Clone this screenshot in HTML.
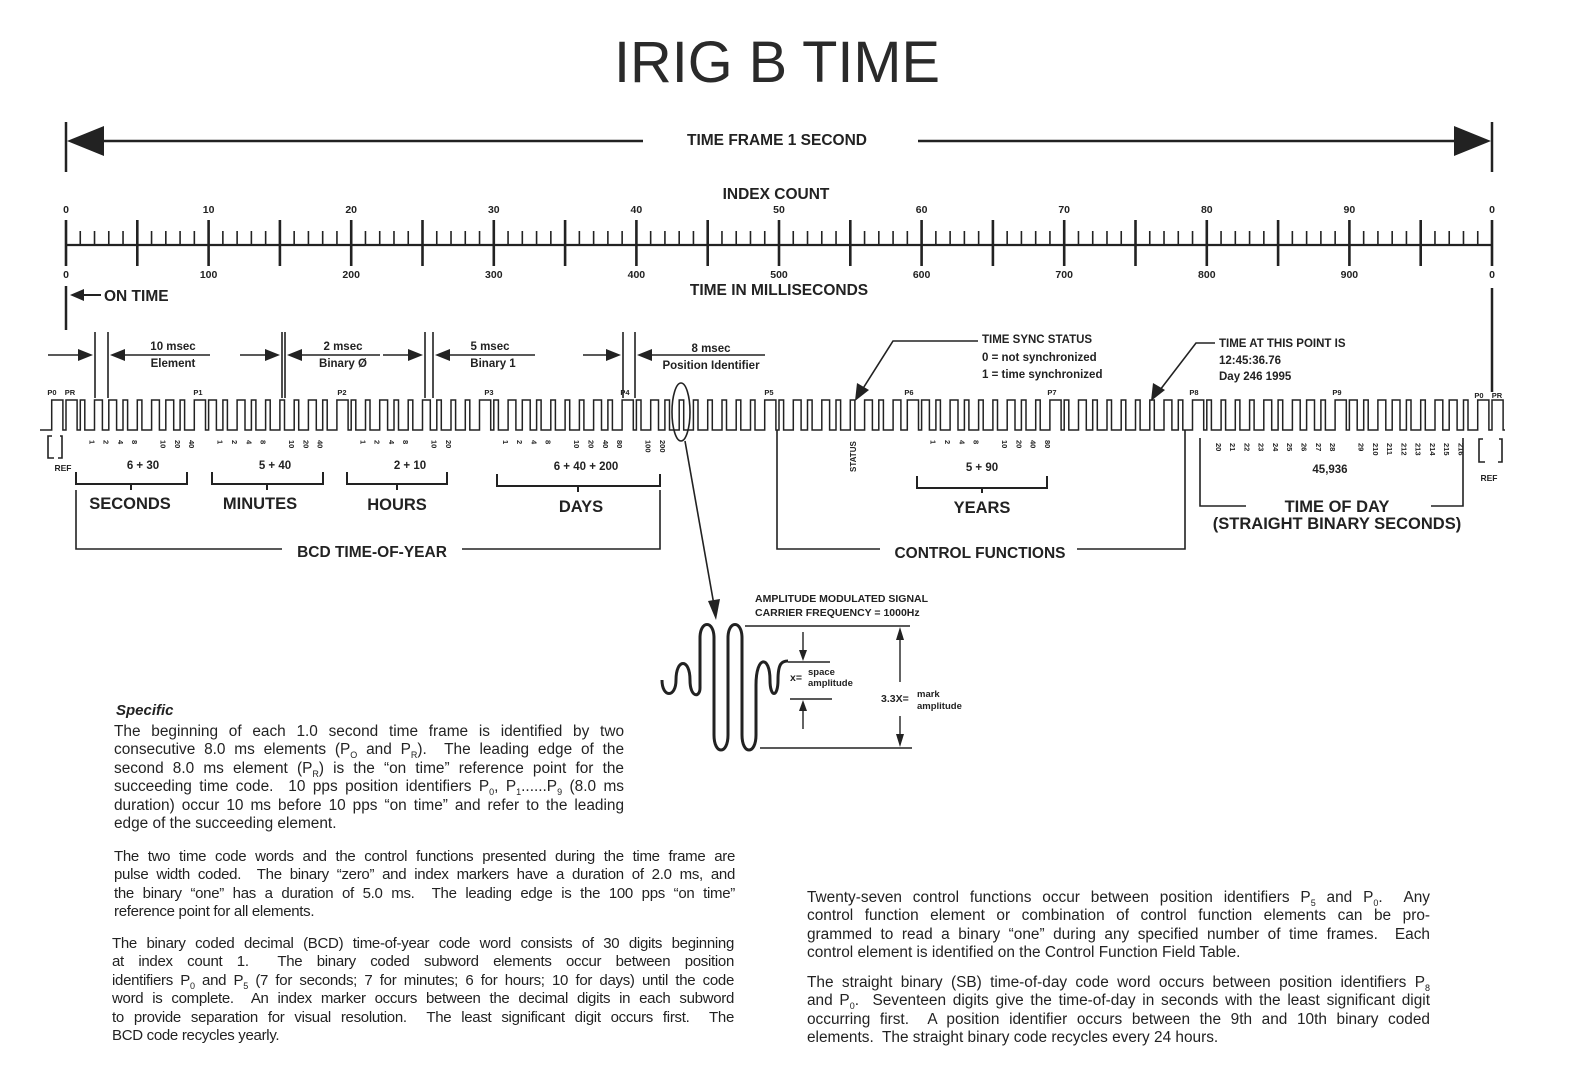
<!DOCTYPE html>
<html><head><meta charset="utf-8">
<style>
html,body{margin:0;padding:0;background:#fff;}
#wrap{position:relative;width:1577px;height:1091px;overflow:hidden;background:#fff;}
svg{position:absolute;left:0;top:0;}
.p{position:absolute;font-family:"Liberation Sans",sans-serif;font-size:15.4px;line-height:18.4px;color:#222;letter-spacing:0px;}
.p span{display:block;white-space:nowrap;text-align:justify;text-align-last:justify;}
.p span.l{text-align-last:left;}
.s{font-size:9px;position:relative;top:4px;line-height:0;}
</style></head><body><div id="wrap">
<svg id="sv" width="1577" height="1091" viewBox="0 0 1577 1091" font-family="Liberation Sans, sans-serif" fill="#222">
<text x="777" y="82" font-size="58" text-anchor="middle" fill="#2a2a2a" textLength="326" lengthAdjust="spacingAndGlyphs">IRIG B TIME</text>
<g stroke="#222" stroke-width="2.5" fill="none">
<line x1="66" y1="122" x2="66" y2="172"/>
<line x1="66" y1="286" x2="66" y2="330"/>
<line x1="1492" y1="122" x2="1492" y2="172"/>
<line x1="1492" y1="288" x2="1492" y2="392"/>
<line x1="100" y1="141" x2="643" y2="141"/>
<line x1="918" y1="141" x2="1458" y2="141"/>
</g>
<polygon points="67,141 104,126 104,156" fill="#222"/>
<polygon points="1491,141 1454,126 1454,156" fill="#222"/>
<text x="777" y="145" font-size="15.5" font-weight="bold" text-anchor="middle">TIME FRAME 1 SECOND</text>
<text x="776" y="199" font-size="15.5" font-weight="bold" text-anchor="middle">INDEX COUNT</text>
<text x="779" y="295" font-size="15.5" font-weight="bold" text-anchor="middle">TIME IN MILLISECONDS</text>
<g id="ruler" stroke="#222" fill="none"></g>
<g id="rl" font-size="10.5" font-weight="bold" text-anchor="middle"></g>
<polygon points="70,295 84,289 84,301" fill="#222"/>
<line x1="84" y1="295" x2="101" y2="295" stroke="#222" stroke-width="2"/>
<text x="104" y="301" font-size="15.5" font-weight="bold">ON TIME</text>
<g stroke="#222" stroke-width="1.6" fill="none">
<line x1="48" y1="355" x2="80" y2="355"/>
<line x1="95" y1="332" x2="95" y2="398"/><line x1="108" y1="332" x2="108" y2="398"/>
<line x1="125" y1="355" x2="210" y2="355"/>
<line x1="240" y1="355" x2="268" y2="355"/>
<line x1="282" y1="332" x2="282" y2="398"/><line x1="285" y1="332" x2="285" y2="398"/>
<line x1="300" y1="355" x2="380" y2="355"/>
<line x1="383" y1="355" x2="410" y2="355"/>
<line x1="425" y1="332" x2="425" y2="398"/><line x1="433" y1="332" x2="433" y2="398"/>
<line x1="450" y1="355" x2="535" y2="355"/>
<line x1="583" y1="355" x2="608" y2="355"/>
<line x1="623" y1="332" x2="623" y2="398"/><line x1="635" y1="332" x2="635" y2="398"/>
<line x1="652" y1="355" x2="765" y2="355"/>
</g>
<g fill="#222">
<polygon points="93,355 78,349 78,361"/><polygon points="110,355 125,349 125,361"/>
<polygon points="280,355 265,349 265,361"/><polygon points="287,355 302,349 302,361"/>
<polygon points="423,355 408,349 408,361"/><polygon points="435,355 450,349 450,361"/>
<polygon points="621,355 606,349 606,361"/><polygon points="637,355 652,349 652,361"/>
</g>
<g font-size="11.5" font-weight="bold" text-anchor="middle">
<text x="173" y="350">10 msec</text><text x="173" y="367">Element</text>
<text x="343" y="350">2 msec</text><text x="343" y="367">Binary Ø</text>
<text x="490" y="350">5 msec</text><text x="493" y="367">Binary 1</text>
<text x="711" y="352">8 msec</text><text x="711" y="369">Position Identifier</text>
</g>
<g font-size="7.5" font-weight="bold" text-anchor="middle">
<text x="52" y="395">P0</text><text x="70" y="395">PR</text>
<text x="198" y="395">P1</text><text x="342" y="395">P2</text><text x="489" y="395">P3</text>
<text x="625" y="395">P4</text><text x="769" y="395">P5</text><text x="909" y="395">P6</text>
<text x="1052" y="395">P7</text><text x="1194" y="395">P8</text><text x="1337" y="395">P9</text>
<text x="1479" y="398">P0</text><text x="1497" y="398">PR</text>
</g>
<path id="wave" stroke="#222" stroke-width="1.5" fill="none" d=""/>
<g id="digits" font-size="7.5" font-weight="bold"></g>
<g stroke="#222" stroke-width="1.6" fill="none">
<polyline points="52,436 48,436 48,458 54,458"/><polyline points="60,436 62,436 62,458 58,458"/>
<polyline points="1483,439 1479,439 1479,462 1485,462"/><polyline points="1499,439 1502,439 1502,462 1498,462"/>
</g>
<g font-size="8.5" font-weight="bold" text-anchor="middle"><text x="63" y="471">REF</text><text x="1489" y="481">REF</text></g>
<g font-size="11.5" font-weight="bold" text-anchor="middle">
<text x="143" y="469">6 + 30</text><text x="275" y="469">5 + 40</text><text x="410" y="469">2 + 10</text>
<text x="586" y="470">6 + 40 + 200</text><text x="982" y="471">5 + 90</text><text x="1330" y="473">45,936</text>
</g>
<text font-size="8" font-weight="bold" transform="translate(856,472) rotate(-90)">STATUS</text>
<g stroke="#222" stroke-width="2" fill="none">
<polyline points="76,472 76,484 187,484 187,472"/><line x1="131" y1="484" x2="131" y2="490"/>
<polyline points="212,472 212,484 323,484 323,472"/><line x1="267" y1="484" x2="267" y2="490"/>
<polyline points="347,472 347,484 447,484 447,472"/><line x1="397" y1="484" x2="397" y2="490"/>
<polyline points="497,474 497,486 660,486 660,474"/><line x1="578" y1="486" x2="578" y2="492"/>
<polyline points="917,476 917,488 1047,488 1047,476"/><line x1="982" y1="488" x2="982" y2="493"/>
</g>
<g font-size="16.5" font-weight="bold" text-anchor="middle">
<text x="130" y="509">SECONDS</text><text x="260" y="509">MINUTES</text><text x="397" y="510">HOURS</text>
<text x="581" y="512">DAYS</text><text x="982" y="513">YEARS</text>
<text x="1337" y="512">TIME OF DAY</text><text x="1337" y="529">(STRAIGHT BINARY SECONDS)</text>
</g>
<g stroke="#222" stroke-width="1.6" fill="none">
<polyline points="76,490 76,549 282,549"/><polyline points="462,549 660,549 660,490"/>
<polyline points="777,430 777,549 880,549"/><polyline points="1077,549 1185,549 1185,430"/>
<polyline points="1200,438 1200,506 1246,506"/><polyline points="1431,506 1463,506 1463,438"/>
</g>
<g font-size="15.5" font-weight="bold" text-anchor="middle">
<text x="372" y="557">BCD TIME-OF-YEAR</text><text x="980" y="558">CONTROL FUNCTIONS</text>
</g>
<g stroke="#222" stroke-width="1.6" fill="none">
<polyline points="978,341 893,341 862,390"/>
<polyline points="1215,343 1196,343 1160,390"/>
</g>
<polygon points="855,401 857,383 869,390" fill="#222"/>
<polygon points="1151,401 1153,383 1165,390" fill="#222"/>
<g font-size="11.5" font-weight="bold">
<text x="982" y="343">TIME SYNC STATUS</text>
<text x="982" y="361">0 = not synchronized</text>
<text x="982" y="378">1 =  time synchronized</text>
<text x="1219" y="347">TIME AT THIS POINT IS</text>
<text x="1219" y="364">12:45:36.76</text>
<text x="1219" y="380">Day 246 1995</text>
</g>
<ellipse cx="681" cy="412" rx="9" ry="29" stroke="#222" stroke-width="1.6" fill="none"/>
<line x1="685" y1="441" x2="714" y2="605" stroke="#222" stroke-width="1.6"/>
<polygon points="716,620 708,601 720,599" fill="#222"/>
<g font-size="10.5" font-weight="bold">
<text x="755" y="602">AMPLITUDE MODULATED SIGNAL</text>
<text x="755" y="616">CARRIER FREQUENCY = 1000Hz</text>
<text x="790" y="681">x=</text><text x="808" y="675" font-size="9.5">space</text><text x="808" y="686" font-size="9.5">amplitude</text>
<text x="881" y="702">3.3X=</text><text x="917" y="697" font-size="9.5">mark</text><text x="917" y="709" font-size="9.5">amplitude</text>
</g>
<path d="M662,680 C662,698 676,698 676,680 C676,658 690,658 690,680 C690,698 700,698 700,688 L700,638 C700,620 714,620 714,638 L714,735 C714,755 728,755 728,735 L728,638 C728,620 742,620 742,638 L742,735 C742,755 756,755 756,735 L756,685 C756,655 770,655 770,680 C770,698 778,698 778,680 C778,663 782,661 788,661" stroke="#222" stroke-width="3" fill="none"/>
<g stroke="#222" stroke-width="1.4" fill="none">
<line x1="745" y1="626" x2="910" y2="626"/><line x1="760" y1="748" x2="912" y2="748"/>
<line x1="788" y1="662" x2="830" y2="662"/><line x1="790" y1="699" x2="832" y2="699"/>
<line x1="803" y1="632" x2="803" y2="652"/><line x1="803" y1="709" x2="803" y2="729"/>
<line x1="900" y1="640" x2="900" y2="682"/><line x1="900" y1="716" x2="900" y2="738"/>
</g>
<g fill="#222">
<polygon points="803,661 799,650 807,650"/><polygon points="803,700 799,711 807,711"/>
<polygon points="900,627 896,640 904,640"/><polygon points="900,747 896,734 904,734"/>
</g>
<text x="116" y="715" font-size="15" font-weight="bold" font-style="italic">Specific</text>
</svg>

<div class="p" style="left:114px;top:723px;width:510px;">
<span>The beginning of each 1.0 second time frame is identified by two</span>
<span>consecutive 8.0 ms elements (P<span class="s" style="display:inline">O</span> and P<span class="s" style="display:inline">R</span>).&nbsp; The leading edge of the</span>
<span>second 8.0 ms element (P<span class="s" style="display:inline">R</span>) is the “on time” reference point for the</span>
<span>succeeding time code.&nbsp; 10 pps position identifiers P<span class="s" style="display:inline">0</span>, P<span class="s" style="display:inline">1</span>......P<span class="s" style="display:inline">9</span> (8.0 ms</span>
<span>duration) occur 10 ms before 10 pps “on time” and refer to the leading</span>
<span class="l">edge of the succeeding element.</span>
</div>
<div class="p" style="left:114px;top:848px;width:621px;font-size:15px;letter-spacing:-0.3px;">
<span>The two time code words and the control functions presented during the time frame are</span>
<span>pulse width coded.&nbsp; The binary “zero” and index markers have a duration of 2.0 ms, and</span>
<span>the binary “one” has a duration of 5.0 ms.&nbsp; The leading edge is the 100 pps “on time”</span>
<span class="l">reference point for all elements.</span>
</div>
<div class="p" style="left:112px;top:935px;width:622px;font-size:15px;letter-spacing:-0.3px;">
<span>The binary coded decimal (BCD) time-of-year code word consists of 30 digits beginning</span>
<span>at index count 1.&nbsp; The binary coded subword elements occur between position</span>
<span>identifiers P<span class="s" style="display:inline">0</span> and P<span class="s" style="display:inline">5</span> (7 for seconds; 7 for minutes; 6 for hours; 10 for days) until the code</span>
<span>word is complete.&nbsp; An index marker occurs between the decimal digits in each subword</span>
<span>to provide separation for visual resolution.&nbsp; The least significant digit occurs first.&nbsp; The</span>
<span class="l">BCD code recycles yearly.</span>
</div>
<div class="p" style="left:807px;top:889px;width:623px;">
<span>Twenty-seven control functions occur between position identifiers P<span class="s" style="display:inline">5</span> and P<span class="s" style="display:inline">0</span>.&nbsp; Any</span>
<span>control function element or combination of control function elements can be pro-</span>
<span>grammed to read a binary “one” during any specified number of time frames.&nbsp; Each</span>
<span class="l">control element is identified on the Control Function Field Table.</span>
</div>
<div class="p" style="left:807px;top:974px;width:623px;">
<span>The straight binary (SB) time-of-day code word occurs between position identifiers P<span class="s" style="display:inline">8</span></span>
<span>and P<span class="s" style="display:inline">0</span>.&nbsp; Seventeen digits give the time-of-day in seconds with the least significant digit</span>
<span>occurring first.&nbsp; A position identifier occurs between the 9th and 10th binary coded</span>
<span class="l">elements.&nbsp; The straight binary code recycles every 24 hours.</span>
</div>
</div>
<script>
(function(){
var NS="http://www.w3.org/2000/svg";
var x0=66,W=14.26;
function X(i){return x0+i*W;}
function el(tag,attrs,parent,txt){var e=document.createElementNS(NS,tag);for(var k in attrs)e.setAttribute(k,attrs[k]);if(txt!==undefined)e.textContent=txt;parent.appendChild(e);return e;}
var r=document.getElementById("ruler"),rl=document.getElementById("rl");
el("line",{x1:66,y1:245,x2:1492,y2:245,"stroke-width":2.2},r);
for(var i=0;i<=100;i++){var x=X(i);
 if(i%5==0){el("line",{x1:x,y1:220,x2:x,y2:266,"stroke-width":2.6},r);}
 else{el("line",{x1:x,y1:231,x2:x,y2:245,"stroke-width":1.6},r);}
 if(i%10==0){el("text",{x:x,y:213},rl,i==100?"0":String(i));el("text",{x:x,y:278},rl,i==100?"0":String(i*10));}
}
var b=[];for(i=0;i<100;i++)b[i]=0;
var P=[0,9,19,29,39,49,59,69,79,89,99];
var ones=[2,3,6,7,10,12,17,22,25,31,32,37,41,51,53,56,58,60,62,66,71,77,84,86,87,90,92,93,96,97];
ones.forEach(function(k){b[k]=1;});P.forEach(function(k){b[k]=2;});
var fr=[0.32,0.55,0.78];
var d="M40,430";
function add(start,v){var xs=start,xe=start+fr[v]*W;d+=" L"+xs.toFixed(1)+",430 L"+xs.toFixed(1)+",400 L"+xe.toFixed(1)+",400 L"+xe.toFixed(1)+",430";}
add(X(-1),2);
for(i=0;i<100;i++)add(X(i),b[i]);
add(X(100),2);
d+=" L1505,430";
document.getElementById("wave").setAttribute("d",d);
var g=document.getElementById("digits");
function dl(idx,t,y){var x=X(idx)+W*0.5+2;el("text",{transform:"translate("+x+","+(y||440)+") rotate(90)"},g,t);}
[[1,"1"],[2,"2"],[3,"4"],[4,"8"],[6,"10"],[7,"20"],[8,"40"],
 [10,"1"],[11,"2"],[12,"4"],[13,"8"],[15,"10"],[16,"20"],[17,"40"],
 [20,"1"],[21,"2"],[22,"4"],[23,"8"],[25,"10"],[26,"20"],
 [30,"1"],[31,"2"],[32,"4"],[33,"8"],[35,"10"],[36,"20"],[37,"40"],[38,"80"],[40,"100"],[41,"200"],
 [60,"1"],[61,"2"],[62,"4"],[63,"8"],[65,"10"],[66,"20"],[67,"40"],[68,"80"]].forEach(function(p){dl(p[0],p[1]);});
var sb=[80,81,82,83,84,85,86,87,88,90,91,92,93,94,95,96,97];
sb.forEach(function(k,j){dl(k,"2"+j,443);});
})();
</script>
</body></html>
